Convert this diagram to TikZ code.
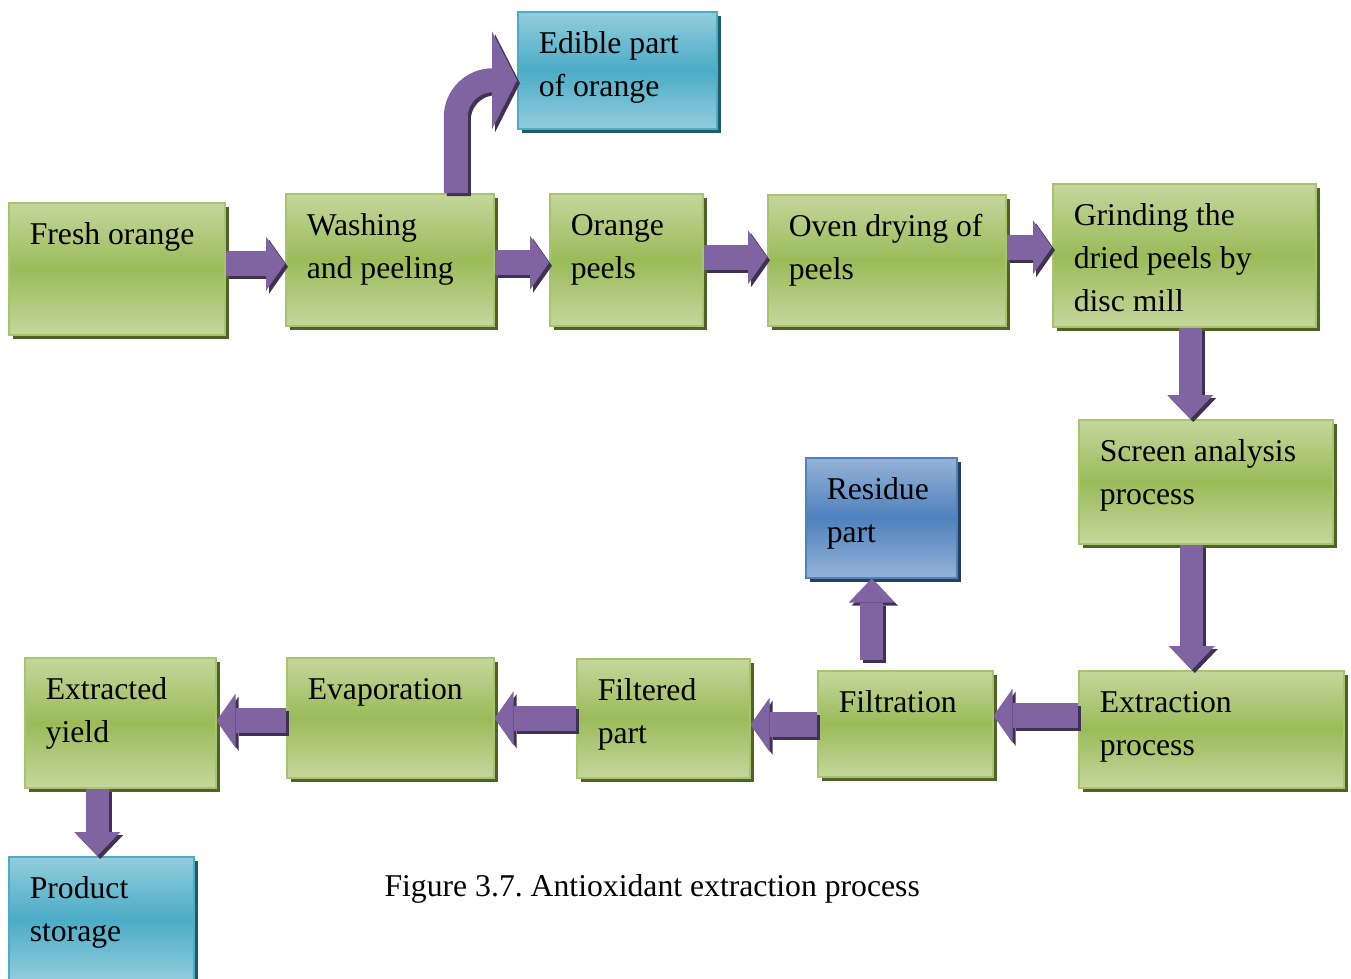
\documentclass[tikz,border=0pt]{standalone}
\usepackage{fontspec}
\setmainfont{Liberation Serif}
\usetikzlibrary{arrows.meta,shadows}
\definecolor{greenmid}{HTML}{9BBB59}
\definecolor{greenlight}{HTML}{C4D79D}
\definecolor{greenline}{HTML}{A7C46C}
\definecolor{greenshadow}{HTML}{4F6228}
\definecolor{cyanmid}{HTML}{4BACC6}
\definecolor{cyanlight}{HTML}{93CDDD}
\definecolor{cyanshadow}{HTML}{215968}
\definecolor{bluemid}{HTML}{4F81BD}
\definecolor{bluelight}{HTML}{95B3D7}
\definecolor{blueshadow}{HTML}{243F60}
\definecolor{arrowpurple}{HTML}{8064A2}
\definecolor{arrowshadow}{HTML}{3F3151}
\newcommand{\boxtext}[3]{\parbox[t][\dimexpr#2pt-24pt\relax][t]{\dimexpr#1pt-42pt\relax}{\raggedright\strut#3}}
\frenchspacing
\begin{document}
\begin{tikzpicture}[
				x=1pt, y=-1pt,
				every node/.style={font=\fontsize{31.7}{43}\selectfont},
				procbox/.style={anchor=north west, line width=1.5pt, inner xsep=21pt, inner ysep=12pt},
				greenbox/.style={procbox, draw=greenline, top color=greenlight, bottom color=greenlight, middle color=greenmid,
					drop shadow={shadow xshift=4pt, shadow yshift=-4pt, fill=greenshadow, opacity=1}},
				cyanbox/.style={procbox, draw=cyanmid, top color=cyanlight, bottom color=cyanlight, middle color=cyanmid,
					drop shadow={shadow xshift=4pt, shadow yshift=-4pt, fill=cyanshadow, opacity=1}},
				bluebox/.style={procbox, draw=bluemid, top color=bluelight, bottom color=bluelight, middle color=bluemid,
					drop shadow={shadow xshift=4pt, shadow yshift=-4pt, fill=blueshadow, opacity=1}},
				flow/.style={draw=arrowpurple, line width=#1, -{Triangle[length=19pt, width=54pt, line width=0pt]},
					preaction={draw=arrowshadow, line width=#1, transform canvas={shift={(3pt,-3pt)}}}},
				flow/.default=25pt,
				flowv/.style={flow=23pt, -{Triangle[length=24pt, width=46pt, line width=0pt]}},
			]
			\useasboundingbox (0,0) rectangle (1351,978);
			\node[greenbox] (fresh) at (8,202) {\boxtext{216}{132}{Fresh orange}};
			\node[greenbox] (wash) at (285,193) {\boxtext{208}{132}{Washing\\and peeling}};
			\node[greenbox] (peels) at (549,193) {\boxtext{153}{132}{Orange\\peels}};
			\node[greenbox] (oven) at (767,194) {\boxtext{238}{131}{Oven drying of\\peels}};
			\node[greenbox] (grind) at (1052,183) {\boxtext{263}{143}{Grinding the\\dried peels by\\disc mill}};
			\node[cyanbox] (edible) at (517,11) {\boxtext{199}{117}{Edible part\\of orange}};
			\node[greenbox] (screen) at (1078,419) {\boxtext{254}{124}{Screen analysis\\process}};
			\node[bluebox] (residue) at (805,457) {\boxtext{151}{120}{Residue\\part}};
			\node[greenbox] (extraction) at (1078,670) {\boxtext{265}{117}{Extraction\\process}};
			\node[greenbox] (filtration) at (817,670) {\boxtext{175}{106}{Filtration}};
			\node[greenbox] (filtered) at (576,658) {\boxtext{173}{119}{Filtered\\part}};
			\node[greenbox] (evap) at (286,657) {\boxtext{207}{120}{Evaporation}};
			\node[greenbox] (extracted) at (24,657) {\boxtext{191}{130}{Extracted\\yield}};
			\node[cyanbox] (product) at (8,856) {\boxtext{185}{125}{Product\\storage}};
			\node[anchor=base west] (caption) at (381,896) {Figure 3.7. Antioxidant extraction process};

			\draw[flow] ([yshift=-4pt]wash.west -| fresh.east) -- ([yshift=-4pt]wash.west);
			\draw[flow] ([yshift=-3pt]peels.west -| wash.east) -- ([yshift=-3pt]peels.west);
			\draw[flow] ([yshift=3pt]oven.west -| peels.east) -- ([yshift=3pt]oven.west);
			\draw[flow] ([yshift=8pt]grind.west -| oven.east) -- ([yshift=8pt]grind.west);
			\draw[flow=24pt, rounded corners=37pt, -{Triangle[length=25pt, width=98pt, line width=0pt]}]
				([xshift=66pt]wash.north) |- ([yshift=-10pt]edible.west);
			\draw[flowv] ([xshift=6pt]grind.south) -- ([xshift=6pt]grind.south |- screen.north);
			\draw[flowv] ([xshift=-14pt]screen.south) -- ([xshift=-14pt]screen.south |- extraction.north);
			\draw[flow] ([yshift=8pt]filtration.east -| extraction.west) -- ([yshift=8pt]filtration.east);
			\draw[flow] ([yshift=-1pt]filtration.west) -- ([yshift=-1pt]filtration.west -| filtered.east);
			\draw[flowv] ([xshift=-9.5pt, yshift=10pt]residue.south |- filtration.north) -- ([xshift=-9.5pt]residue.south);
			\draw[flow] (filtered.west) -- (filtered.west -| evap.east);
			\draw[flow] ([yshift=-3pt]evap.west) -- ([yshift=-3pt]evap.west -| extracted.east);
			\draw[flowv] ([xshift=-4pt]product.north |- extracted.south) -- ([xshift=-4pt]product.north);
\end{tikzpicture}
\end{document}
